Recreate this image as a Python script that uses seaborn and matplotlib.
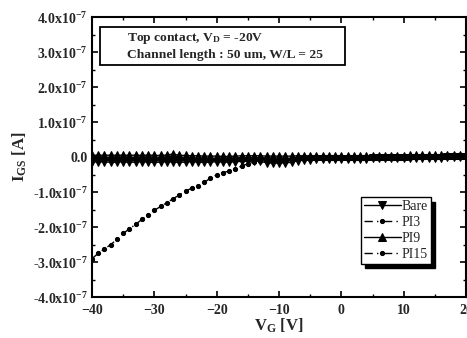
import numpy as np
import pandas as pd
import matplotlib
matplotlib.use("Agg")
import matplotlib.pyplot as plt
import seaborn as sns
from matplotlib.patches import Rectangle
from matplotlib.ticker import MultipleLocator, FixedLocator, FixedFormatter

sns.set_theme(style="white")
plt.rcParams['font.family'] = ['Liberation Serif', 'DejaVu Serif']
plt.rcParams['mathtext.fontset'] = 'custom'
plt.rcParams['mathtext.rm'] = 'Liberation Serif:bold'
plt.rcParams['mathtext.bf'] = 'Liberation Serif:bold'
plt.rcParams['mathtext.it'] = 'Liberation Serif:bold'
plt.rcParams['mathtext.default'] = 'bf'

# gate voltage (V)
vg = list(range(-40, 21))

# drain currents in units of 1e-7 A
bare = [-0.13, -0.14, -0.13, -0.15, -0.14, -0.13, -0.15, -0.14, -0.13, -0.14,
        -0.15, -0.14, -0.13, -0.14, -0.15, -0.14, -0.13, -0.14, -0.15, -0.14,
        -0.13, -0.14, -0.14, -0.13, -0.12, -0.12, -0.11, -0.12, -0.16, -0.17,
        -0.17, -0.16, -0.15, -0.10, -0.08, -0.07, -0.06, -0.06, -0.05, -0.05,
        -0.05, -0.04, -0.04, -0.04, -0.04, -0.03, -0.03, -0.03, -0.03, -0.02,
        -0.02, -0.02, -0.02, -0.01, -0.01, -0.01, -0.01, 0.00, 0.00, 0.00, 0.01]
pi3 = [-0.05, -0.05, -0.06, -0.05, -0.05, -0.06, -0.05, -0.05, -0.06, -0.05,
       -0.05, -0.06, -0.05, -0.05, -0.06, -0.05, -0.05, -0.06, -0.05, -0.05,
       -0.06, -0.05, -0.05, -0.06, -0.05, -0.05, -0.05, -0.05, -0.06, -0.06,
       -0.06, -0.05, -0.05, -0.04, -0.04, -0.04, -0.03, -0.03, -0.03, -0.03,
       -0.02, -0.02, -0.02, -0.02, -0.02, -0.02, -0.01, -0.01, -0.01, -0.01,
       -0.01, -0.01, 0.00, 0.00, 0.00, 0.00, 0.00, 0.01, 0.01, 0.01, 0.01]
pi9 = [0.05, 0.06, 0.05, 0.06, 0.05, 0.06, 0.05, 0.06, 0.05, 0.06,
       0.05, 0.05, 0.06, 0.09, 0.05, 0.05, 0.04, 0.04, 0.03, 0.03,
       0.03, 0.02, 0.02, 0.03, 0.04, 0.04, 0.04, 0.04, 0.03, 0.03,
       0.03, 0.03, 0.03, 0.04, 0.04, 0.04, 0.04, 0.04, 0.04, 0.04,
       0.04, 0.04, 0.04, 0.04, 0.04, 0.04, 0.04, 0.04, 0.04, 0.04,
       0.04, 0.05, 0.05, 0.05, 0.05, 0.05, 0.05, 0.05, 0.05, 0.05, 0.06]
pi15 = [-2.90, -2.75, -2.62, -2.50, -2.35, -2.18, -2.05, -1.92, -1.78, -1.65,
        -1.52, -1.41, -1.30, -1.19, -1.08, -0.98, -0.88, -0.82, -0.72, -0.60,
        -0.50, -0.44, -0.40, -0.34, -0.25, -0.19, -0.14, -0.10, -0.08, -0.07,
        -0.06, -0.05, -0.05, -0.04, -0.04, -0.03, -0.03, -0.03, -0.02, -0.02,
        -0.02, -0.02, -0.01, -0.01, -0.01, -0.01, 0.00, 0.00, 0.00, 0.00,
        0.00, 0.00, 0.01, 0.01, 0.01, 0.01, 0.01, 0.02, 0.02, 0.02, 0.02]

series_names = ["Bare", "PI3", "PI9", "PI15"]
series_vals = [bare, pi3, pi9, pi15]
series_markers = ["v", "o", "^", "o"]
series_msize = [5.5, 3, 5.5, 3]
series_dash = [None, (6, 3, 1, 4), None, (6, 3, 1, 4)]

ytick_vals = [-4, -3, -2, -1, 0, 1, 2, 3, 4]
ytick_labels = ["-4.0x10$^{-7}$", "-3.0x10$^{-7}$", "-2.0x10$^{-7}$", "-1.0x10$^{-7}$",
                "0.0", "1.0x10$^{-7}$", "2.0x10$^{-7}$", "3.0x10$^{-7}$", "4.0x10$^{-7}$"]

fig = plt.figure(figsize=(4.67, 3.38), dpi=100)
ax = fig.add_axes([0.197, 0.121, 0.801, 0.828])

for name, vals, mk, ms, ds in zip(series_names, series_vals, series_markers, series_msize, series_dash):
    df = pd.DataFrame({"VG": vg, "I": np.array(vals) * 1e-7})
    sns.lineplot(data=df, x="VG", y="I", ax=ax, color="black", marker=mk,
                 markersize=ms, markeredgecolor="black", linewidth=1.0,
                 label=name)
    if ds is not None:
        ax.lines[-1].set_dashes(ds)

ax.set_xlim(-40, 20)
ax.set_ylim(-4e-7, 4e-7)
ax.xaxis.set_major_locator(MultipleLocator(10))
ax.xaxis.set_minor_locator(MultipleLocator(5))
ax.yaxis.set_major_locator(FixedLocator([v * 1e-7 for v in ytick_vals]))
ax.yaxis.set_major_formatter(FixedFormatter(ytick_labels))
ax.yaxis.set_minor_locator(MultipleLocator(0.5e-7))
ax.tick_params(which="both", direction="in", top=True, right=True, color="black",
               bottom=True, left=True)
ax.tick_params(which="major", length=4, width=1.2)
ax.tick_params(which="minor", length=2.5, width=1.0)
ax.tick_params(axis="y", which="major", pad=3)
ax.tick_params(axis="x", which="major", pad=5)
for lab in ax.get_xticklabels() + ax.get_yticklabels():
    lab.set_fontweight("bold")
    lab.set_fontsize(10)
for sp in ax.spines.values():
    sp.set_color("black")
    sp.set_linewidth(1.5)

ax.set_xlabel("V$_G$ [V]", fontsize=12, fontweight="bold", labelpad=0)
ax.set_ylabel("I$_{GS}$ [A]", fontsize=12, fontweight="bold", labelpad=3)

ax.add_patch(Rectangle((0.021, 0.829), 0.655, 0.136, transform=ax.transAxes,
                       facecolor="white", edgecolor="black", linewidth=1.3, zorder=5))
ax.text(0.355, 0.897, "Top contact, V$_D$ = -20V\nChannel length : 50 um, W/L = 25",
        transform=ax.transAxes, fontsize=9.7, fontweight="bold", va="center", ha="center",
        multialignment="left", linespacing=1.25, zorder=6)

leg = ax.legend(loc="lower right", bbox_to_anchor=(0.906, 0.118), frameon=True, fancybox=False,
                shadow={"color": "black", "alpha": 1, "ox": 3, "oy": -3}, fontsize=10,
                handlelength=2.7, handletextpad=0.05, borderpad=0.2, labelspacing=0.22,
                borderaxespad=0)
leg.get_frame().set_edgecolor("black")
leg.get_frame().set_linewidth(1.0)
leg.get_frame().set_alpha(1)

fig.savefig("out.png", dpi=100)
